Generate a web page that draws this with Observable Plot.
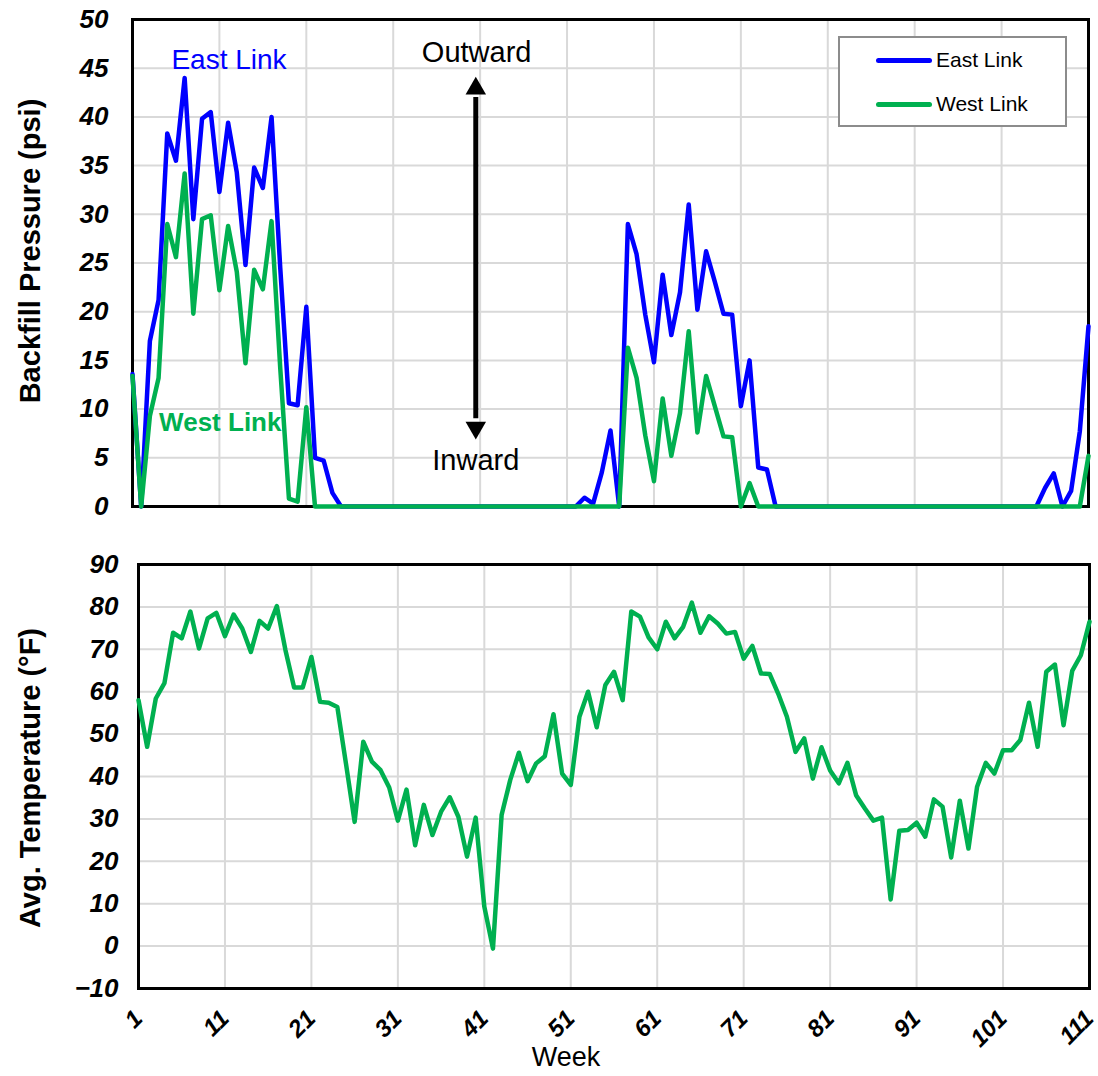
<!DOCTYPE html>
<html>
<head>
<meta charset="utf-8">
<script src="https://cdn.jsdelivr.net/npm/d3@7"></script>
<script src="https://cdn.jsdelivr.net/npm/@observablehq/plot@0.6"></script>
<style>
  body { margin: 0; background: #fff; font-family: "Liberation Sans", Arial, sans-serif; }
  #wrap { position: relative; width: 1098px; height: 1076px; overflow: hidden; }
  #topPanel, #botPanel { position: absolute; left: 0; }
  #topPanel { top: 0; }
  #botPanel { top: 520px; }
  .ytitle { position: absolute; font-weight: bold; font-size: 29px; white-space: nowrap;
            transform: translate(-50%, -50%) rotate(-90deg); color: #000; }
  .xtitle { position: absolute; font-size: 27px; transform: translate(-50%, -50%); color: #000; }
  #legend { position: absolute; left: 838px; top: 36px; width: 225px; height: 87px;
            border: 2px solid #8c8c8c; background: #fff; }
  .lg { position: absolute; left: 36px; width: 56px; height: 5px; border-radius: 3px; }
  .lt { position: absolute; left: 96px; font-size: 21px; transform: translateY(-50%); color: #000; }
</style>
</head>
<body>
<div id="wrap">
  <div id="topPanel"></div>
  <div id="botPanel"></div>
  <div class="ytitle" style="left:30px; top:251px;">Backfill Pressure (psi)</div>
  <div class="ytitle" style="left:30px; top:778px;">Avg. Temperature (°F)</div>
  <div class="xtitle" style="left:566px; top:1057px;">Week</div>
  <div id="legend">
    <div class="lg" style="top:20px; background:#0000ff;"></div>
    <div class="lt" style="top:22px;">East Link</div>
    <div class="lg" style="top:64px; background:#00b050;"></div>
    <div class="lt" style="top:66px;">West Link</div>
  </div>
</div>
<script>
// ---- data ----
const weekTicks = [1, 11, 21, 31, 41, 51, 61, 71, 81, 91, 101, 111];
const pressureTicks = [0, 5, 10, 15, 20, 25, 30, 35, 40, 45, 50];
const tempTicks = [-10, 0, 10, 20, 30, 40, 50, 60, 70, 80, 90];

// Backfill pressure, East Link (psi), weeks 1..111
const eastLink = [
  13.6, 0, 17, 21.2, 38.3, 35.5, 44, 29.5, 39.8, 40.5,
  32.3, 39.4, 34.3, 24.8, 34.8, 32.7, 40, 24.5, 10.6, 10.4,
  20.5, 5, 4.7, 1.4, 0, 0, 0, 0, 0, 0,
  0, 0, 0, 0, 0, 0, 0, 0, 0, 0,
  0, 0, 0, 0, 0, 0, 0, 0, 0, 0,
  0, 0, 0.9, 0.3, 3.5, 7.8, 0, 29, 25.9, 19.7,
  14.8, 23.8, 17.6, 22, 31, 20.2, 26.2, 23.1, 19.8, 19.7,
  10.3, 15, 4, 3.8, 0, 0, 0, 0, 0, 0,
  0, 0, 0, 0, 0, 0, 0, 0, 0, 0,
  0, 0, 0, 0, 0, 0, 0, 0, 0, 0,
  0, 0, 0, 0, 0, 1.9, 3.4, 0, 1.6, 7.7,
  18.5
];

// Backfill pressure, West Link (psi), weeks 1..111
const westLink = [
  13.4, 0, 9.3, 13.2, 29, 25.6, 34.2, 19.8, 29.5, 29.9,
  22.2, 28.8, 24.1, 14.7, 24.3, 22.3, 29.3, 14.2, 0.8, 0.5,
  10.2, 0, 0, 0, 0, 0, 0, 0, 0, 0,
  0, 0, 0, 0, 0, 0, 0, 0, 0, 0,
  0, 0, 0, 0, 0, 0, 0, 0, 0, 0,
  0, 0, 0, 0, 0, 0, 0, 16.3, 13.2, 7.3,
  2.6, 11.1, 5.2, 9.6, 18, 7.6, 13.4, 10.3, 7.2, 7.1,
  0, 2.4, 0, 0, 0, 0, 0, 0, 0, 0,
  0, 0, 0, 0, 0, 0, 0, 0, 0, 0,
  0, 0, 0, 0, 0, 0, 0, 0, 0, 0,
  0, 0, 0, 0, 0, 0, 0, 0, 0, 0,
  5.2
];

// Average temperature (°F), weeks 1..111
const avgTemp = [
  58, 47, 58.4, 62, 73.9, 72.6, 78.9, 70.2, 77.3, 78.6,
  73.1, 78.2, 74.9, 69.4, 76.7, 74.9, 80.2, 69.8, 61, 61,
  68.2, 57.6, 57.4, 56.4, 43, 29.3, 48.2, 43.5, 41.5, 37.4,
  29.6, 36.9, 23.8, 33.3, 26.2, 31.7, 35.1, 30.5, 21.1, 30.3,
  9.3, -0.6, 30.9, 39.2, 45.6, 38.9, 43.1, 44.8, 54.7, 40.7,
  38, 54.1, 60, 51.6, 61.6, 64.7, 58, 78.9, 77.7, 72.8,
  70, 76.5, 72.6, 75.3, 81, 73.9, 77.8, 76.1, 73.7, 74.1,
  67.8, 70.8, 64.3, 64.2, 59.5, 54.1, 45.8, 49, 39.5, 46.9,
  41.4, 38.4, 43.2, 35.6, 32.5, 29.6, 30.3, 11, 27.2, 27.4,
  29.1, 25.8, 34.6, 32.9, 20.9, 34.3, 23, 37.6, 43.2, 40.7,
  46.2, 46.2, 48.6, 57.4, 47, 64.7, 66.4, 52.1, 64.9, 68.6,
  76.5
];

const BLUE = "#0000ff", GREEN = "#00b050", GRID = "#d9d9d9";
const FONT = "Liberation Sans, Arial, Helvetica, sans-serif";
const LW = 4.5;
const weekOf = (d, i) => i + 1;

const topChart = Plot.plot({
  width: 1098, height: 520,
  marginLeft: 132, marginRight: 10, marginTop: 19, marginBottom: 14,
  style: { fontFamily: FONT, background: "white", overflow: "visible" },
  x: { domain: [1, 111], axis: null },
  y: { domain: [0, 50] },
  marks: [
    Plot.gridX(weekTicks, { stroke: GRID, strokeOpacity: 1, strokeWidth: 2 }),
    Plot.gridY(pressureTicks, { stroke: GRID, strokeOpacity: 1, strokeWidth: 2 }),
    Plot.axisY(pressureTicks, { tickSize: 0, tickPadding: 24, fontSize: 26, fontWeight: "bold", fontStyle: "italic", label: null }),
    Plot.frame({ stroke: "black", strokeWidth: 3 }),
    Plot.lineY(eastLink, { x: weekOf, y: d => d, stroke: BLUE, strokeWidth: LW }),
    Plot.lineY(westLink, { x: weekOf, y: d => d, stroke: GREEN, strokeWidth: LW }),
    Plot.text([{ x: 12.1, y: 45.8, t: "East Link" }], { x: "x", y: "y", text: "t", fill: BLUE, fontSize: 28 }),
    Plot.text([{ x: 11.1, y: 8.6, t: "West Link" }], { x: "x", y: "y", text: "t", fill: GREEN, fontSize: 26, fontWeight: "bold" }),
    Plot.text([{ x: 40.6, y: 46.6, t: "Outward" }], { x: "x", y: "y", text: "t", fill: "black", fontSize: 29 }),
    Plot.text([{ x: 40.5, y: 4.7, t: "Inward" }], { x: "x", y: "y", text: "t", fill: "black", fontSize: 29 }),
    Plot.ruleX([40.5], { y1: 9, y2: 42, stroke: "black", strokeWidth: 5 }),
    Plot.dot([{ x: 40.5, y: 42.9 }], { x: "x", y: "y", symbol: "triangle", r: 7.6, fill: "black", stroke: null }),
    Plot.dot([{ x: 40.5, y: 8.1 }], { x: "x", y: "y", symbol: "triangle", r: 7.6, fill: "black", stroke: null, rotate: 180 })
  ]
});
document.getElementById("topPanel").appendChild(topChart);

const botChart = Plot.plot({
  width: 1098, height: 556,
  marginLeft: 138, marginRight: 9, marginTop: 44, marginBottom: 88,
  style: { fontFamily: FONT, background: "white", overflow: "visible" },
  x: { domain: [1, 111] },
  y: { domain: [-10, 90] },
  marks: [
    Plot.gridX(weekTicks, { stroke: GRID, strokeOpacity: 1, strokeWidth: 2 }),
    Plot.gridY(tempTicks, { stroke: GRID, strokeOpacity: 1, strokeWidth: 2 }),
    Plot.axisX(weekTicks, { tickSize: 0, tickPadding: 26, tickRotate: -45, textAnchor: "end", fontSize: 24, fontWeight: "bold", fontStyle: "italic", label: null }),
    Plot.axisY(tempTicks, { tickSize: 0, tickPadding: 20, fontSize: 26, fontWeight: "bold", fontStyle: "italic", label: null }),
    Plot.frame({ stroke: "black", strokeWidth: 3 }),
    Plot.lineY(avgTemp, { x: weekOf, y: d => d, stroke: GREEN, strokeWidth: LW })
  ]
});
document.getElementById("botPanel").appendChild(botChart);
</script>
</body>
</html>
